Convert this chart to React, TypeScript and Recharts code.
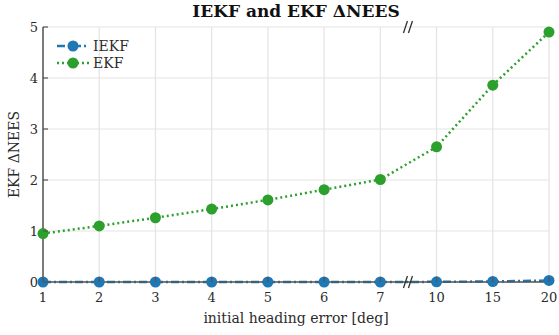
import React from "react";
import { LineChart, Line, XAxis, YAxis, CartesianGrid, ReferenceDot, Legend } from "recharts";

// x positions are evenly spaced categories (axis is broken between 7 and 10)
const headingErrors = ["1", "2", "3", "4", "5", "6", "7", "10", "15", "20"];
const iekfValues = [0.0, 0.0, 0.0, 0.0, 0.0, 0.0, 0.0, 0.003, 0.01, 0.03];
const ekfValues = [0.95, 1.1, 1.26, 1.43, 1.61, 1.81, 2.01, 2.65, 3.86, 4.9];
const yTicks = [0, 1, 2, 3, 4, 5];

const BLUE = "#1f77b4";
const GREEN = "#2ca02c";
const AXIS = "#555555";
const TEXT = "#2b2b2b";
const FONT = "'DejaVu Serif', serif";

const data = headingErrors.map((label, i) => ({
  idx: i,
  label,
  iekf: iekfValues[i],
  ekf: ekfValues[i],
}));

const YTick = ({ x, y, payload }: any) => (
  <g>
    <line x1={x} x2={x + 5} y1={y} y2={y} stroke={AXIS} strokeWidth={1.2} />
    <text x={x - 5} y={y} dy={4.5} textAnchor="end" fill={TEXT} fontSize={13} fontFamily={FONT}>
      {payload.value}
    </text>
  </g>
);

const XTick = ({ x, y, payload }: any) => (
  <g>
    <line x1={x} x2={x} y1={y} y2={y - 5} stroke={AXIS} strokeWidth={1.2} />
    <text x={x} y={y} dy={20} textAnchor="middle" fill={TEXT} fontSize={13} fontFamily={FONT}>
      {headingErrors[payload.value]}
    </text>
  </g>
);

const BreakMark = ({ cx, cy }: any) => (
  <g stroke="#333" strokeWidth={1.3}>
    <line x1={cx - 5} y1={cy + 6} x2={cx - 1} y2={cy - 6} />
    <line x1={cx} y1={cy + 6} x2={cx + 4} y2={cy - 6} />
  </g>
);

const LegendBox = () => {
  const items = [
    { name: "IEKF", color: BLUE, dash: "8 3 2 3" },
    { name: "EKF", color: GREEN, dash: "2 3" },
  ];
  return (
    <svg width={90} height={40}>
      {items.map((it, i) => (
        <g key={it.name} transform={`translate(0, ${9 + i * 17})`}>
          <line x1={2} x2={34} y1={0} y2={0} stroke={it.color} strokeWidth={2.5} strokeDasharray={it.dash} />
          <circle cx={18} cy={0} r={5.5} fill={it.color} />
          <text x={38} y={0} dy={5} fontSize={14} fill={TEXT} fontFamily={FONT}>
            {it.name}
          </text>
        </g>
      ))}
    </svg>
  );
};

export default function App() {
  return (
    <div style={{ position: "relative", width: 559, height: 335, background: "#fff" }}>
      <style>{"body{margin:0}"}</style>
      <div
        style={{
          position: "absolute",
          left: 43,
          width: 506,
          top: 1,
          textAlign: "center",
          fontFamily: FONT,
          fontWeight: "bold",
          fontSize: 17,
          color: "#111",
        }}
      >
        IEKF and EKF ΔNEES
      </div>
      <LineChart width={559} height={335} data={data} margin={{ top: 27, right: 10, bottom: 0, left: 0 }}>
        <CartesianGrid stroke="#e3e3e3" strokeWidth={1.2} />
        <XAxis
          dataKey="idx"
          type="number"
          domain={[0, 9]}
          ticks={data.map((d) => d.idx)}
          interval={0}
          height={53}
          stroke={AXIS}
          strokeWidth={1.5}
          tickLine={false}
          tickSize={0}
          tickMargin={0}
          tick={<XTick />}
          label={{ value: "initial heading error [deg]", position: "insideBottom", offset: 12, fill: TEXT, fontSize: 14, fontFamily: FONT }}
        />
        <YAxis
          type="number"
          domain={[0, 5]}
          ticks={yTicks}
          width={43}
          stroke={AXIS}
          strokeWidth={1.5}
          tickLine={false}
          tickSize={0}
          tickMargin={0}
          tick={<YTick />}
          label={{ value: "EKF ΔNEES", angle: -90, position: "insideLeft", offset: 14, fill: TEXT, fontSize: 14, fontFamily: FONT, style: { textAnchor: "middle" } }}
        />
        <Legend
          layout="horizontal"
          verticalAlign="middle"
          align="center"
          content={<LegendBox />}
          wrapperStyle={{ position: "absolute", left: 55, top: 37, width: 90 }}
        />
        <Line
          dataKey="ekf"
          stroke={GREEN}
          strokeWidth={2.5}
          strokeDasharray="2 3"
          dot={{ r: 5.5, fill: GREEN, stroke: GREEN, strokeWidth: 0 }}
          isAnimationActive={false}
        />
        <Line
          dataKey="iekf"
          stroke={BLUE}
          strokeWidth={2.5}
          strokeDasharray="8 3 2 3"
          dot={{ r: 5.5, fill: BLUE, stroke: BLUE, strokeWidth: 0 }}
          isAnimationActive={false}
        />
        <ReferenceDot x={6.5} y={5} ifOverflow="visible" shape={<BreakMark />} />
        <ReferenceDot x={6.5} y={0} ifOverflow="visible" shape={<BreakMark />} />
      </LineChart>
    </div>
  );
}
